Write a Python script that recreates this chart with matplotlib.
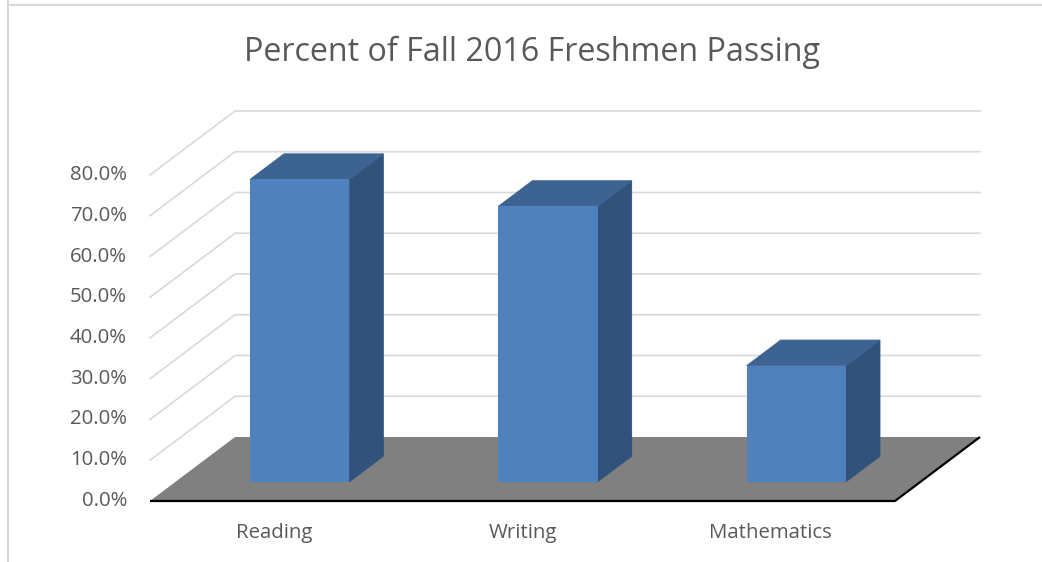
import matplotlib
matplotlib.use("Agg")
import matplotlib.pyplot as plt
from matplotlib.patches import Polygon
from matplotlib.transforms import ScaledTranslation

categories = ["Reading", "Writing", "Mathematics"]
values = [0.742, 0.676, 0.285]
tick_values = [0.0, 0.1, 0.2, 0.3, 0.4, 0.5, 0.6, 0.7, 0.8]
tick_labels = ["0.0%", "10.0%", "20.0%", "30.0%", "40.0%", "50.0%", "60.0%", "70.0%", "80.0%"]
title = "Percent of Fall 2016 Freshmen Passing"

W, H, DPI = 1042, 562, 100
fig = plt.figure(figsize=(W / DPI, H / DPI), dpi=DPI)
ax = fig.add_axes([0, 0, 1, 1])
ax.axis("off")

# pixel mapping: category unit = 248.33 px, 1.0 = 407.5 px
xs, ys = 248.33, 407.5
x0px, y0px = 150, H - 501
ax.set_xlim(-x0px / xs, (W - x0px) / xs)
ax.set_ylim(-y0px / ys, (H - y0px) / ys)

# oblique depth offset
DX, DY = 85 / xs, 64 / ys
n = len(categories)
grid_c = "#D9D9D9"
text_c = "#595959"

# frame
ax.plot([8 / W, 8 / W, 1], [1, 1 - 5 / H, 1 - 5 / H], transform=ax.transAxes,
        color=grid_c, lw=1.5, zorder=0)
ax.plot([8 / W, 8 / W], [0, 1 - 5 / H], transform=ax.transAxes,
        color=grid_c, lw=1.5, zorder=0)

# walls gridlines
for v in tick_values[1:]:
    ax.plot([0, DX, n + DX], [v, v + DY, v + DY], color=grid_c, lw=1.2, zorder=1)

# floor
floor = Polygon([(0, 0), (n, 0), (n + DX, DY), (DX, DY)], closed=True,
                facecolor="#808080", edgecolor="none", zorder=2)
ax.add_patch(floor)
ax.plot([0, n, n + DX], [0, 0, DY], color="black", lw=1.6, zorder=3,
        solid_capstyle="butt")

# bars
d0, d1 = 0.3, 0.7
bw = 0.4
front_c, top_c, side_c = "#4F81BD", "#3C6391", "#31527B"
for i, v in enumerate(values):
    xl = i + (1 - bw) / 2 + d0 * DX
    xr = xl + bw
    yb = d0 * DY
    yt = yb + v
    ddx, ddy = (d1 - d0) * DX, (d1 - d0) * DY
    ax.add_patch(Polygon([(xr, yb), (xr + ddx, yb + ddy), (xr + ddx, yt + ddy), (xr, yt)],
                         closed=True, facecolor=side_c, edgecolor=side_c, lw=0.6, zorder=4))
    ax.add_patch(Polygon([(xl, yt), (xr, yt), (xr + ddx, yt + ddy), (xl + ddx, yt + ddy)],
                         closed=True, facecolor=top_c, edgecolor=top_c, lw=0.6, zorder=4))
    ax.add_patch(Polygon([(xl, yb), (xr, yb), (xr, yt), (xl, yt)],
                         closed=True, facecolor=front_c, edgecolor="none", zorder=5))

font = "Open Sans"
# y tick labels
off_y = ax.transData + ScaledTranslation(-23 / DPI, 0, fig.dpi_scale_trans)
for v, lab in zip(tick_values, tick_labels):
    ax.text(0, v, lab, transform=off_y, ha="right", va="center", fontsize=14.7,
            color=text_c, family=font)

# category labels
off_x = ax.transData + ScaledTranslation(0, -32 / DPI, fig.dpi_scale_trans)
for i, c in enumerate(categories):
    ax.text(i + 0.5, 0, c, transform=off_x, ha="center", va="center", fontsize=14.7,
            color=text_c, family=font)

fig.text(532 / W, 1 - 52 / H, title, ha="center", va="center", fontsize=23.2,
         color=text_c, family=font)

fig.savefig("out.png", dpi=DPI)
